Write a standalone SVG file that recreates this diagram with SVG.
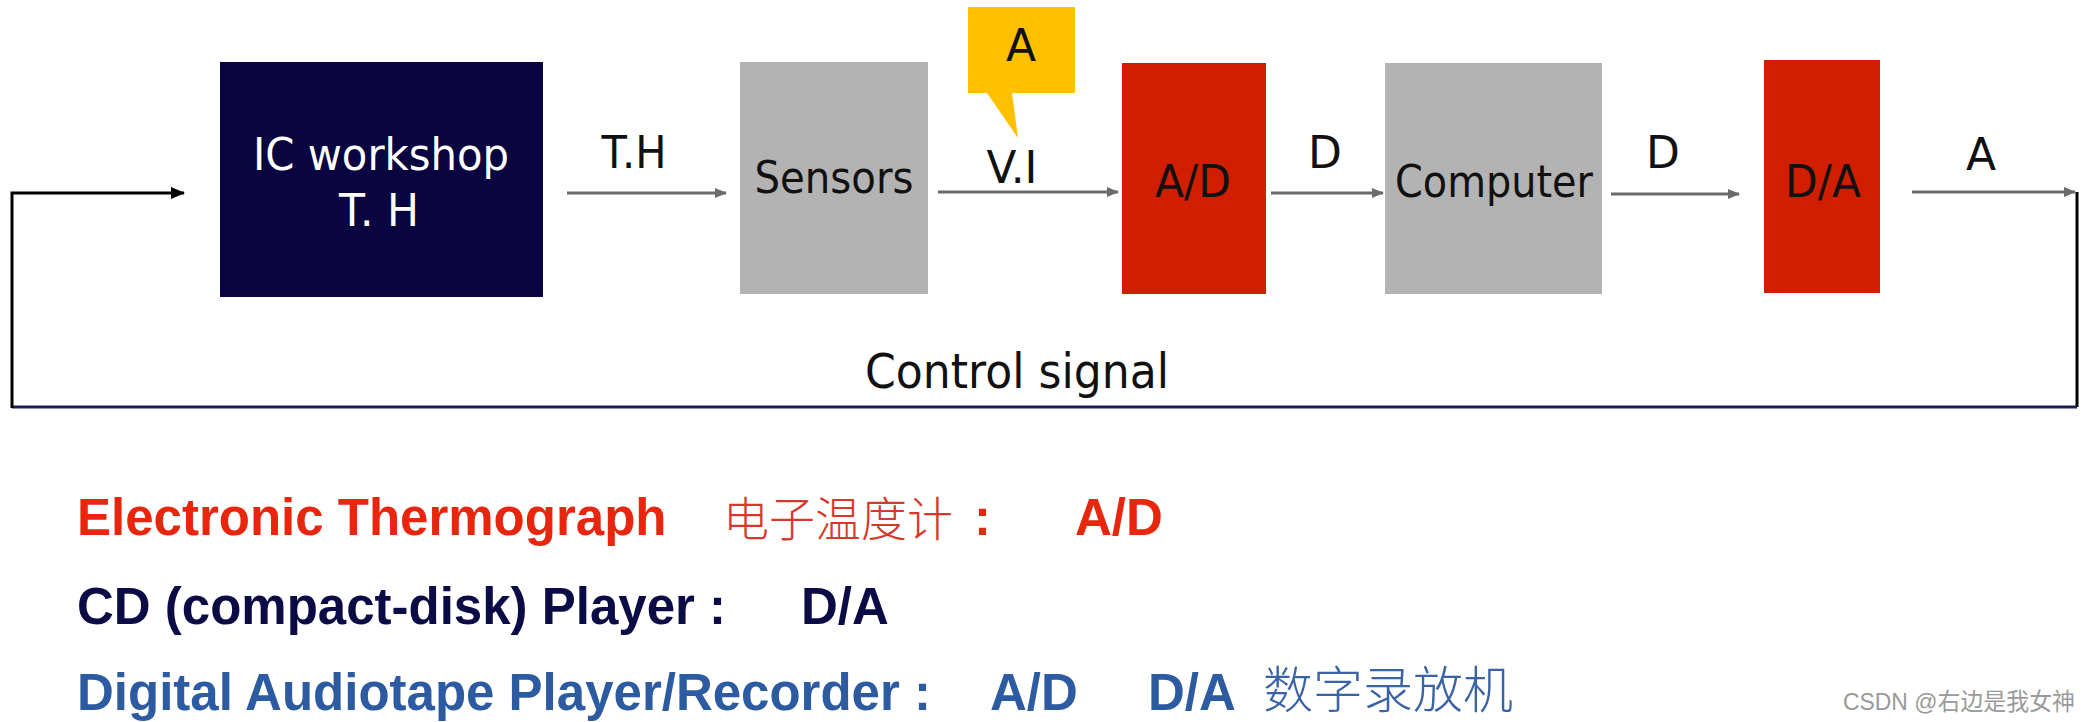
<svg xmlns="http://www.w3.org/2000/svg" width="2090" height="722" viewBox="0 0 2090 722">
<style>
.lbl{font-family:"DejaVu Sans","Verdana",sans-serif;font-size:44px;fill:#111;text-anchor:middle}
.wl{fill:#fff}
.gray{fill:#b3b3b3}
.red{fill:#d21e00}
.arr{stroke:#6b6b6b;stroke-width:3;fill:none;marker-end:url(#ag)}
.fb{stroke:#000;stroke-width:3;fill:none}
.bt{font-family:"Liberation Sans",Arial,sans-serif;font-weight:bold;font-size:51px}
.cjk{font-family:"Noto Sans CJK SC","Noto Sans CJK JP",sans-serif;font-size:50px;font-weight:300}
</style>
<defs>
<marker id="ag" markerWidth="12" markerHeight="10" refX="11" refY="5" orient="auto" markerUnits="userSpaceOnUse">
<path d="M0,0 L12,5 L0,10 z" fill="#6b6b6b"/>
</marker>
<marker id="ab" markerWidth="14" markerHeight="12" refX="13" refY="6" orient="auto" markerUnits="userSpaceOnUse">
<path d="M0,0 L14,6 L0,12 z" fill="#000"/>
</marker>
</defs>
<rect width="2090" height="722" fill="#fff"/>

<g id="connectors">
<line class="arr" x1="567" y1="193" x2="726" y2="193"/>
<line class="arr" x1="938" y1="192" x2="1118" y2="192"/>
<line class="arr" x1="1271" y1="193" x2="1383" y2="193"/>
<line class="arr" x1="1611" y1="194" x2="1739" y2="194"/>
<line class="arr" x1="1912" y1="192" x2="2075" y2="192"/>
<path class="fb" d="M2077,192 V407"/>
<path d="M12,407 H2077" stroke="#1c1c55" stroke-width="3" fill="none"/>
<path class="fb" d="M12,408 V193 H184" marker-end="url(#ab)"/>
<text class="lbl" x="634" y="168" textLength="65" lengthAdjust="spacingAndGlyphs">T.H</text>
<text class="lbl" x="1012" y="183" textLength="51" lengthAdjust="spacingAndGlyphs">V.I</text>
<text class="lbl" x="1325" y="168">D</text>
<text class="lbl" x="1663" y="168">D</text>
<text class="lbl" x="1981" y="170">A</text>
<text class="lbl" x="1017" y="388" style="font-size:48px" textLength="304" lengthAdjust="spacingAndGlyphs">Control signal</text>
</g>

<g id="ic-workshop">
<rect x="220" y="62" width="323" height="235" fill="#0a0540"/>
<text class="lbl wl" x="381" y="170" textLength="256" lengthAdjust="spacingAndGlyphs">IC workshop</text>
<text class="lbl wl" x="379" y="226" textLength="80" lengthAdjust="spacingAndGlyphs">T. H</text>
</g>

<g id="sensors">
<rect class="gray" x="740" y="62" width="188" height="232"/>
<text class="lbl" x="834" y="193" textLength="159" lengthAdjust="spacingAndGlyphs">Sensors</text>
</g>

<g id="callout">
<path d="M968,7 H1075 V93 H1012 L1018,138 L987,93 H968 Z" fill="#ffc000"/>
<text class="lbl" x="1021" y="61">A</text>
</g>

<g id="ad">
<rect class="red" x="1122" y="63" width="144" height="231"/>
<text class="lbl" x="1193" y="197" textLength="76" lengthAdjust="spacingAndGlyphs">A/D</text>
</g>

<g id="computer">
<rect class="gray" x="1385" y="63" width="217" height="231"/>
<text class="lbl" x="1494" y="197" textLength="198" lengthAdjust="spacingAndGlyphs">Computer</text>
</g>

<g id="da">
<rect class="red" x="1764" y="60" width="116" height="233"/>
<text class="lbl" x="1823" y="197" textLength="76" lengthAdjust="spacingAndGlyphs">D/A</text>
</g>

<g id="notes">
<text class="bt" x="77" y="535" fill="#e8260e">Electronic Thermograph</text>
<text class="cjk" x="723" y="536" fill="#d8382c" style="font-size:47px" textLength="230" lengthAdjust="spacingAndGlyphs">电子温度计</text>
<text class="bt" x="974" y="535" fill="#e8260e">:</text>
<text class="bt" x="1075" y="535" fill="#e8260e">A/D</text>
<text class="bt" x="77" y="624" fill="#0b0b45">CD (compact-disk) Player :</text>
<text class="bt" x="801" y="624" fill="#0b0b45">D/A</text>
<text class="bt" x="77" y="710" fill="#2d5ba2">Digital Audiotape Player/Recorder :</text>
<text class="bt" x="990" y="710" fill="#2d5ba2">A/D</text>
<text class="bt" x="1148" y="710" fill="#2d5ba2">D/A</text>
<text class="cjk" x="1263" y="708" fill="#3a62a6">数字录放机</text>
<text x="1843" y="710" font-family="Liberation Sans,Noto Sans CJK SC,sans-serif" font-size="24" fill="#9a9a9a" textLength="232" lengthAdjust="spacingAndGlyphs">CSDN @右边是我女神</text>
</g>
</svg>
